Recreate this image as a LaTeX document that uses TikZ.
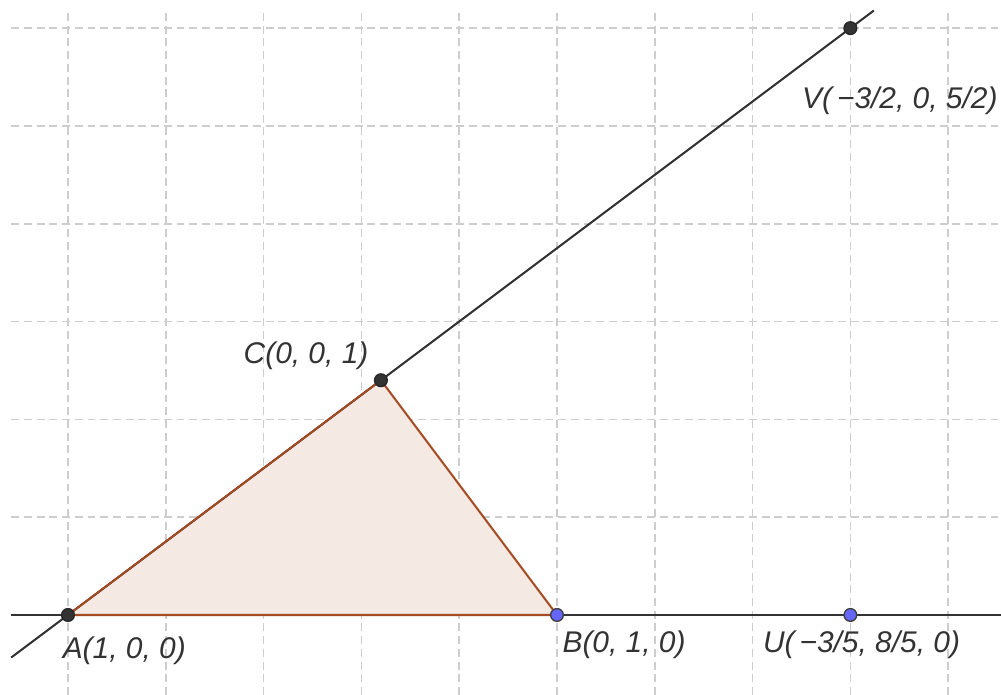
\documentclass[tikz,border=0pt]{standalone}
\usepackage{fontspec}
\setmainfont{Liberation Sans}
\usetikzlibrary{calc}
\definecolor{gridgray}{RGB}{205,205,205}
\definecolor{linegray}{RGB}{51,51,51}
\definecolor{polyedge}{RGB}{165,75,35}
\definecolor{polyfill}{RGB}{245,233,228}
\definecolor{freeblue}{RGB}{102,102,255}
\tikzset{
  gridline/.style={gridgray, line width=0.45pt, dash pattern=on 2.3pt off 1.4pt},
  baseline/.style={linegray, line width=0.6pt},
  polyside/.style={polyedge, line width=0.6pt},
  ptfixed/.style={circle, draw=black!85, fill=linegray, inner sep=0pt, minimum size=0.13cm, line width=0.4pt},
  ptfree/.style={circle, draw=black!75, fill=freeblue, inner sep=0pt, minimum size=0.13cm, line width=0.4pt},
  ptlabel/.style={anchor=base west, inner sep=0pt, text=linegray, font=\fontsize{8.7}{10}\selectfont\itshape}
}
\begin{document}
\begin{tikzpicture}[x=1cm,y=1cm]
  \useasboundingbox (-0.695,-0.818) rectangle (9.540,6.288);
  % grid
  \foreach \i in {0,...,9}
    \draw[gridline] (\i,-0.818) -- (\i,6.17);
  \foreach \j in {0,...,6}
    \draw[gridline] (-0.58,\j) -- (9.54,\j);

  \coordinate (lineL) at (-0.58,0);
  \coordinate (lineR) at (9.54,0);
  \coordinate (diagL) at (-0.58,-0.435);
  \coordinate (diagR) at (8.24,6.18);

  \coordinate (pA) at (0,0);
  \coordinate (pB) at (5,0);
  \coordinate (pC) at (3.2,2.4);

  \fill[polyfill] (pA) -- (pB) -- (pC) -- cycle;
  \draw[baseline] (lineL) -- (lineR);
  \draw[baseline] (diagL) -- (diagR);
  \draw[polyside] (pA) -- (pB) -- (pC) -- cycle;

  \node[ptfixed] (A) at (pA) {};
  \node[ptfree] (B) at (pB) {};
  \node[ptfixed] (C) at (pC) {};
  \node[ptfree] (U) at (8,0) {};
  \node[ptfixed] (V) at (8,6) {};

  \node[ptlabel] (Alabel) at ($(A)+(-0.06,-0.45)$) {A(1, 0, 0)};
  \node[ptlabel] (Blabel) at ($(B)+(0.05,-0.38)$) {B(0, 1, 0)};
  \node[ptlabel] (Clabel) at ($(C)+(-1.41,0.17)$) {C(0, 0, 1)};
  \node[ptlabel] (Ulabel) at ($(U)+(-0.90,-0.38)$) {U(\,−3/5, 8/5, 0)};
  \node[ptlabel] (Vlabel) at ($(V)+(-0.50,-0.82)$) {V(\,−3/2, 0, 5/2)};
\end{tikzpicture}
\end{document}
